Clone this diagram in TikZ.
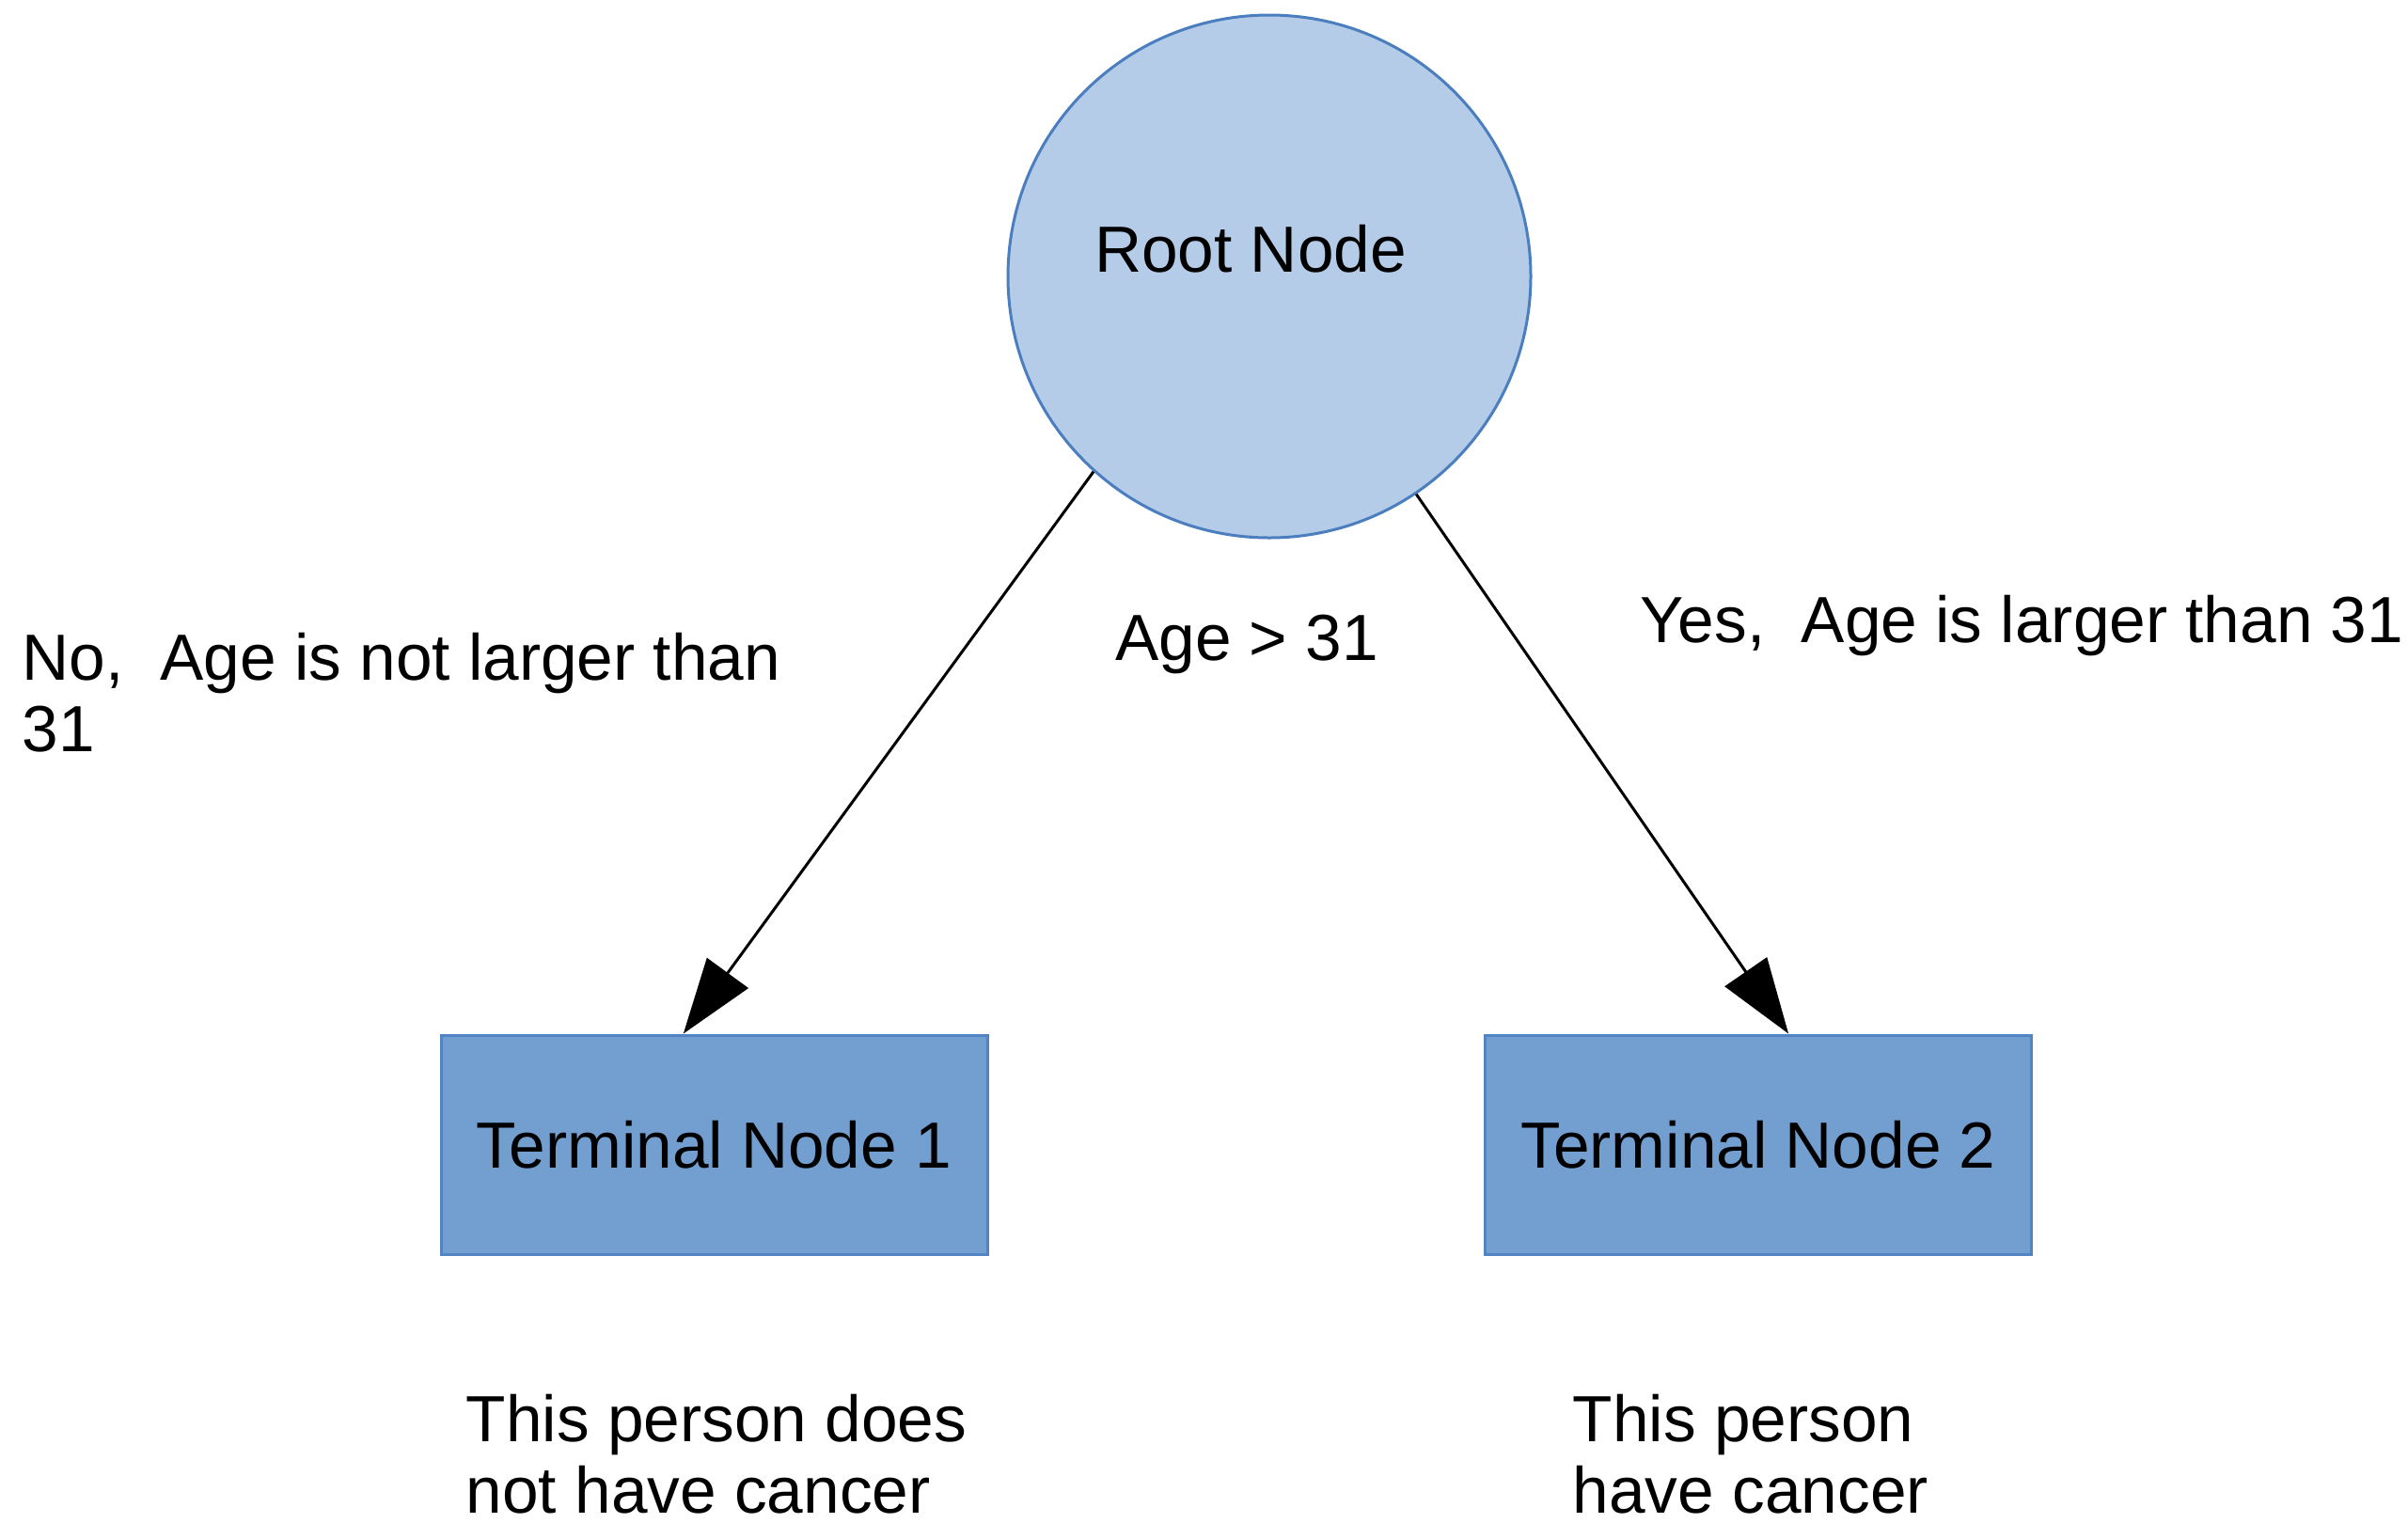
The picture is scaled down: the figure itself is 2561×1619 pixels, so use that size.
\documentclass[tikz,border=0pt]{standalone}
\usepackage{fontspec}
\setmainfont{Liberation Sans}
\usetikzlibrary{arrows.meta,calc}
\definecolor{circfill}{HTML}{B4CCE8}
\definecolor{circline}{HTML}{4A7EBF}
\definecolor{boxfill}{HTML}{729FCF}
\definecolor{boxline}{HTML}{5283C2}
\begin{document}
\begin{tikzpicture}[x=0.25pt,y=-0.25pt,
  txt/.style={font=\fontsize{17.35}{19}\selectfont, inner sep=0pt, align=left},
  rootnode/.style={circle, draw=circline, fill=circfill, line width=0.75pt, minimum size=139pt, inner sep=0pt},
  termnode/.style={rectangle, draw=boxline, fill=boxfill, line width=0.75pt, minimum width=145.25pt, minimum height=58.25pt, inner sep=0pt, font=\fontsize{17.35}{19}\selectfont},
  edge/.style={line width=0.75pt, -{Triangle[length=20pt,width=13.5pt]}}]
\useasboundingbox (0,0) rectangle (2561,1619);
\node[rootnode] (root) at (1350,294) {};
\node[txt, anchor=base] (rootlbl) at (1330,289) {Root Node};
\node[termnode] (t1) at (759.5,1217.5) {Terminal Node 1};
\node[termnode] (t2) at (1870,1217.5) {Terminal Node 2};
\coordinate (t1in) at ($(t1.north west)!0.444!(t1.north east)$);
\coordinate (t2in) at ($(t2.north west)!0.555!(t2.north east)$);
\draw[edge] (root.228.7) -- (t1in);
\draw[edge] (root.304.8) -- (t2in);
\node[txt, anchor=base] (cond) at (1326,702) {Age > 31};
\node[txt, anchor=base west] (nolbl) at (23,799) {No,\ \ Age is not larger than\\31};
\node[txt, anchor=base west] (yeslbl) at (1744,683) {Yes,\ \ Age is larger than 31};
\node[txt, anchor=base west] (res1) at (495,1609) {This person does\\not have cancer};
\node[txt, anchor=base west] (res2) at (1672,1609) {This person\\have cancer};
\end{tikzpicture}
\end{document}
